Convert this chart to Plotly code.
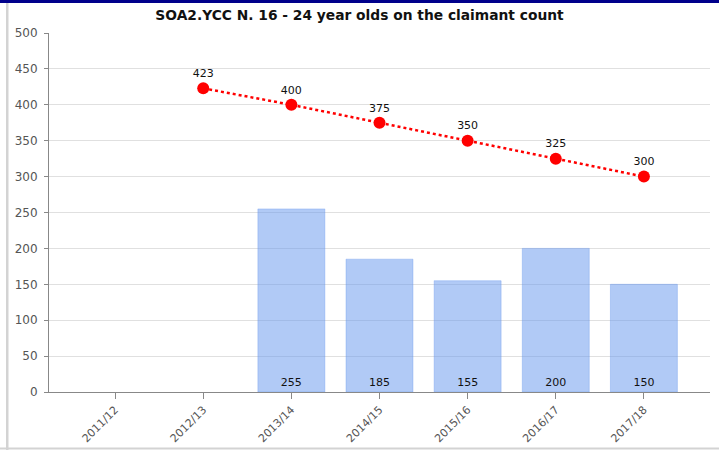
import plotly.graph_objects as go

categories = ["2011/12", "2012/13", "2013/14", "2014/15", "2015/16", "2016/17", "2017/18"]
bar_values = [None, None, 255, 185, 155, 200, 150]
line_values = [None, 423, 400, 375, 350, 325, 300]
y_ticks = [0, 50, 100, 150, 200, 250, 300, 350, 400, 450, 500]

FONT = "DejaVu Sans"
L, R, T, B = 49, 9, 33, 58
W, H = 719, 450
pw, ph = W - L - R, H - T - B

def px(x):
    return (x - L) / pw

def py(y):
    return (H - B - y) / ph

fig = go.Figure()
fig.add_trace(go.Bar(
    x=categories, y=bar_values,
    marker=dict(color="rgba(100,149,237,0.5)", line=dict(color="rgba(100,149,237,0.35)", width=1)),
    width=0.76,
    text=[str(v) if v is not None else "" for v in bar_values],
    textposition="inside", insidetextanchor="start",
    textfont=dict(family=FONT, size=11, color="#111"),
    hoverinfo="x+y", showlegend=False,
))
fig.add_trace(go.Scatter(
    x=categories, y=line_values, mode="lines+markers+text",
    line=dict(color="red", width=2.5, dash="dot"),
    marker=dict(color="red", size=12),
    text=[str(v) if v is not None else "" for v in line_values],
    textposition="top center",
    textfont=dict(family=FONT, size=11, color="#111"),
    showlegend=False,
))

fig.update_layout(
    width=W, height=H,
    margin=dict(l=L, r=R, t=T, b=B, pad=0, autoexpand=False),
    paper_bgcolor="white", plot_bgcolor="white",
    title=dict(text="<b>SOA2.YCC N. 16 - 24 year olds on the claimant count</b>",
               x=0.5, xref="container", xanchor="center", y=1 - 15 / H, yanchor="middle",
               font=dict(family=FONT, size=13.8, color="#111")),
    xaxis=dict(
        range=[-0.75, 6.75], showgrid=False, automargin=False,
        showline=True, linecolor="#888", linewidth=1,
        ticks="outside", ticklen=6, tickcolor="#888",
        tickangle=-45, tickfont=dict(family=FONT, size=11, color="#555"),
        fixedrange=True,
    ),
    yaxis=dict(
        range=[0, 500], tickvals=y_ticks, automargin=False,
        showgrid=True, gridcolor="#e0e0e0", gridwidth=1,
        showline=True, linecolor="#888", linewidth=1,
        ticks="outside", ticklen=4, tickcolor="#888", ticklabelstandoff=4,
        tickfont=dict(family=FONT, size=12, color="#555"),
        zeroline=False, fixedrange=True,
    ),
    shapes=[
        dict(type="rect", xref="paper", yref="paper", x0=px(0), x1=px(W), y0=py(0), y1=py(3),
             fillcolor="#00008b", line=dict(width=0), layer="above"),
        dict(type="rect", xref="paper", yref="paper", x0=px(6), x1=px(8.5), y0=py(3), y1=py(450),
             fillcolor="#d3d3d3", line=dict(width=0), layer="above"),
        dict(type="rect", xref="paper", yref="paper", x0=px(0), x1=px(W), y0=py(447.5), y1=py(449.5),
             fillcolor="#d3d3d3", line=dict(width=0), layer="above"),
    ],
)

fig.write_html("out.html", config={"displayModeBar": False},
               post_script="document.body.style.margin='0';document.body.style.overflow='hidden';")
